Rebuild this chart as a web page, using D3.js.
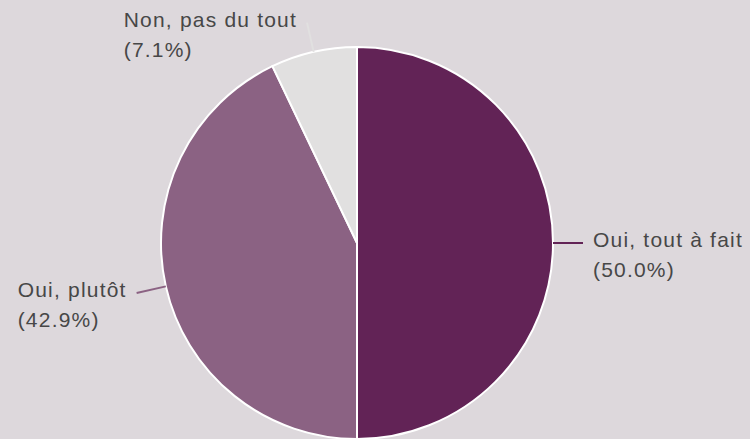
<!DOCTYPE html>
<html>
<head>
<meta charset="utf-8">
<script src="https://cdn.jsdelivr.net/npm/d3@7"></script>
<style>
  html, body { margin: 0; padding: 0; background: #ddd8dc; }
  svg { display: block; }
</style>
</head>
<body>
<div class="container"></div>
<script>
const WIDTH = 750
const HEIGHT = 439

// data
const categories = ['Oui, tout à fait', 'Oui, plutôt', 'Non, pas du tout']
const values = [50.0, 42.9, 7.1]
const colors = ['#622356', '#8b6283', '#e1e0e0']

const cx = 357
const cy = 243
const radius = 196

const data = categories.map((name, i) => ({ name, value: values[i] }))

const color = d3.scaleOrdinal(categories, colors)

const pie = d3.pie()
    .sort(null)
    .value(d => d.value)

const arc = d3.arc()
    .innerRadius(0)
    .outerRadius(radius)

const arcs = pie(data)

const svg = d3.select('.container').append('svg')
    .attr('width', WIDTH)
    .attr('height', HEIGHT)
    .attr('viewBox', `0 0 ${WIDTH} ${HEIGHT}`)
    .style('font-family', '"Liberation Sans", Arial, sans-serif')

const g = svg.append('g')
    .attr('transform', `translate(${cx},${cy})`)

// slices
g.append('g')
    .attr('stroke', 'white')
    .attr('stroke-width', 2)
    .selectAll('path')
    .data(arcs)
    .join('path')
    .attr('fill', d => color(d.data.name))
    .attr('d', arc)

// leader lines, radial from the slice edge
const lineStart = radius
const lineEnd = radius + 30
const mid = d => (d.startAngle + d.endAngle) / 2
const pt = (a, r) => [Math.sin(a) * r, -Math.cos(a) * r]
const isRight = d => Math.sin(mid(d)) >= 0

g.append('g')
    .selectAll('line')
    .data(arcs)
    .join('line')
    .attr('stroke', d => color(d.data.name))
    .attr('stroke-width', 2)
    .attr('x1', d => pt(mid(d), lineStart)[0])
    .attr('y1', d => pt(mid(d), lineStart)[1])
    .attr('x2', d => pt(mid(d), lineEnd)[0])
    .attr('y2', d => pt(mid(d), lineEnd)[1])

// labels (two lines, left aligned block)
const fmt = d3.format('.1f')

const label = g.append('g')
    .attr('fill', '#474747')
    .style('font-size', '21px')
    .style('letter-spacing', '1.2px')
    .selectAll('text')
    .data(arcs)
    .join('text')

label.append('tspan')
    .attr('x', 0)
    .attr('y', 0)
    .text(d => d.data.name)

label.append('tspan')
    .attr('x', 0)
    .attr('y', 30)
    .text(d => `(${fmt(d.data.value)}%)`)

label.attr('transform', function (d) {
    const [x, y] = pt(mid(d), lineEnd)
    const w = this.getBBox().width
    const tx = isRight(d) ? x + 10 : x - 10 - w
    return `translate(${tx},${y + 4})`
})
</script>
</body>
</html>
